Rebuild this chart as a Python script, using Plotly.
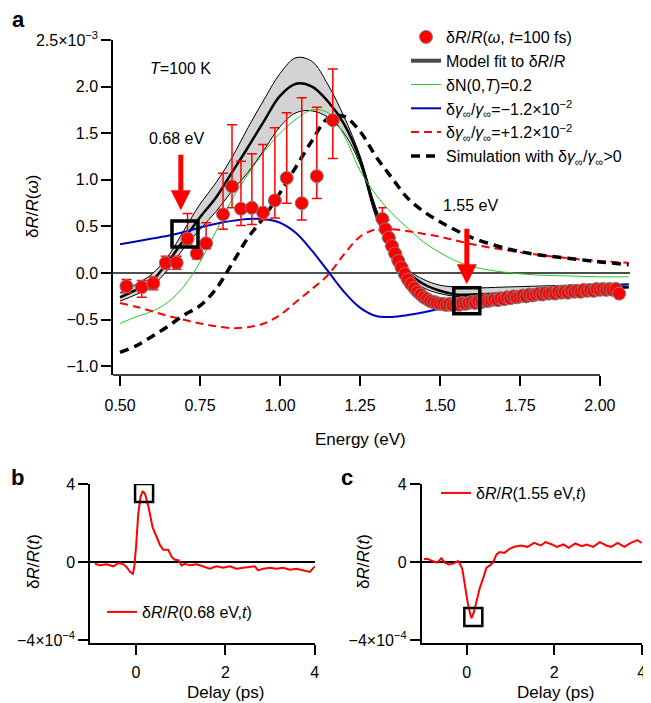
import plotly.graph_objects as go

# the page body adds an 8px offset; the figure is laid out in window pixels minus that offset
OFF = 8
W, H = 651 - OFF, 703 - OFF
FONT = "Liberation Sans"

def px(x):
    return (x - OFF) / W

def py(y):
    return 1 - (y - OFF) / H

# ---------------- Panel a data ----------------
E_grid = [0.50, 0.55, 0.60, 0.65, 0.70, 0.75, 0.80, 0.85, 0.90, 0.95, 1.00, 1.05, 1.10,
          1.15, 1.20, 1.25, 1.30, 1.35, 1.40, 1.45, 1.50, 1.55, 1.60, 1.70, 1.80, 1.90,
          2.00, 2.09]
fit_center = [-0.26, -0.18, -0.08, 0.12, 0.36, 0.60, 0.81, 1.08, 1.35, 1.63, 1.90, 2.03, 2.00,
              1.84, 1.60, 1.22, 0.65, 0.28, 0.01, -0.12, -0.19, -0.23, -0.23, -0.22, -0.20,
              -0.18, -0.16, -0.15]
fit_upper = [-0.21, -0.12, -0.01, 0.18, 0.46, 0.74, 0.97, 1.24, 1.56, 1.86, 2.14, 2.31, 2.27,
             2.02, 1.68, 1.26, 0.70, 0.32, 0.04, -0.07, -0.13, -0.15, -0.16, -0.15, -0.14,
             -0.13, -0.12, -0.12]
fit_lower = [-0.30, -0.23, -0.14, 0.04, 0.27, 0.47, 0.66, 0.88, 1.08, 1.32, 1.57, 1.72, 1.74,
             1.67, 1.50, 1.17, 0.60, 0.25, -0.03, -0.16, -0.22, -0.25, -0.25, -0.24, -0.21,
             -0.19, -0.17, -0.16]
dN_curve = [-0.54, -0.47, -0.41, -0.31, -0.14, 0.12, 0.45, 0.79, 1.06, 1.30, 1.50, 1.65, 1.75,
            1.72, 1.48, 1.10, 0.84, 0.64, 0.48, 0.33, 0.22, 0.13, 0.07, 0.01, -0.02,
            -0.03, -0.04, -0.04]
gam_minus = [0.31, 0.34, 0.37, 0.40, 0.44, 0.49, 0.53, 0.56, 0.58, 0.58, 0.54, 0.43, 0.24,
             0.02, -0.20, -0.37, -0.46, -0.47, -0.45, -0.42, -0.38, -0.33, -0.29, -0.23, -0.19,
             -0.16, -0.14, -0.12]
gam_plus = [-0.32, -0.36, -0.41, -0.46, -0.50, -0.54, -0.57, -0.59, -0.58, -0.54, -0.45, -0.31, -0.17,
            -0.02, 0.20, 0.39, 0.47, 0.47, 0.45, 0.42, 0.39, 0.35, 0.31, 0.25, 0.20,
            0.16, 0.13, 0.11]
sim_curve = [-0.85, -0.78, -0.68, -0.57, -0.45, -0.35, -0.17, 0.10, 0.38, 0.60, 0.86, 1.14, 1.42,
             1.66, 1.68, 1.52, 1.25, 1.02, 0.80, 0.66, 0.55, 0.46, 0.38, 0.27, 0.20,
             0.16, 0.12, 0.09]

# sparse measured points (low energies)
E_sparse = [0.52, 0.568, 0.604, 0.643, 0.677, 0.711, 0.74, 0.769, 0.822, 0.85, 0.878, 0.912,
            0.947, 0.984, 1.021, 1.068, 1.115, 1.165]
R_sparse = [-0.14, -0.15, -0.11, 0.11, 0.11, 0.37, 0.21, 0.32, 0.63, 0.93, 0.69, 0.70,
            0.65, 0.78, 1.02, 0.75, 1.04, 1.64]
err_up_sparse = [0.07, 0.07, 0.07, 0.07, 0.07, 0.27, 0.06, 0.22, 0.44, 0.66, 0.51, 0.58,
                 0.73, 0.78, 0.70, 1.13, 0.74, 0.55]
err_dn_sparse = [0.07, 0.11, 0.07, 0.07, 0.07, 0.06, 0.06, 0.06, 0.16, 0.23, 0.18, 0.18,
                 0.08, 0.19, 0.27, 0.18, 0.24, 0.41]

# dense measured points (high energies)
E_dense = [1.32, 1.33, 1.34, 1.35, 1.36, 1.37, 1.38, 1.39, 1.40, 1.41, 1.42, 1.43, 1.44, 1.45,
           1.46, 1.47, 1.48, 1.49, 1.50, 1.51, 1.52, 1.53, 1.54, 1.55, 1.56, 1.57, 1.58, 1.59,
           1.60, 1.61, 1.62, 1.63, 1.64, 1.65, 1.66, 1.67, 1.68, 1.69, 1.70, 1.71, 1.72, 1.73,
           1.74, 1.75, 1.76, 1.77, 1.78, 1.79, 1.80, 1.81, 1.82, 1.83, 1.84, 1.85, 1.86, 1.87,
           1.88, 1.89, 1.90, 1.91, 1.92, 1.93, 1.94, 1.95, 1.96, 1.97, 1.98, 1.99, 2.00, 2.01,
           2.02, 2.03, 2.04, 2.05, 2.06]
R_dense = [0.58, 0.47, 0.38, 0.29, 0.21, 0.13, 0.06, -0.01, -0.07, -0.12, -0.16, -0.20, -0.23, -0.26,
           -0.28, -0.30, -0.31, -0.32, -0.33, -0.33, -0.34, -0.33, -0.34, -0.33, -0.34, -0.32, -0.33, -0.32,
           -0.31, -0.32, -0.30, -0.31, -0.29, -0.30, -0.29, -0.28, -0.29, -0.27, -0.28, -0.26, -0.27, -0.25,
           -0.26, -0.25, -0.24, -0.25, -0.23, -0.24, -0.23, -0.22, -0.23, -0.21, -0.22, -0.21, -0.22, -0.20,
           -0.21, -0.20, -0.21, -0.19, -0.20, -0.19, -0.20, -0.18, -0.19, -0.18, -0.19, -0.17, -0.18, -0.17,
           -0.18, -0.17, -0.18, -0.17, -0.22]
err_dense = [0.12, 0.10, 0.09, 0.08, 0.07, 0.06, 0.06, 0.06, 0.06, 0.05, 0.05, 0.05, 0.05, 0.05,
             0.05, 0.05, 0.06, 0.05, 0.06, 0.05, 0.06, 0.05, 0.06, 0.05, 0.05, 0.05, 0.05, 0.05,
             0.05, 0.04, 0.05, 0.04, 0.05, 0.04, 0.05, 0.04, 0.04, 0.04, 0.04, 0.04, 0.04, 0.04,
             0.04, 0.04, 0.04, 0.04, 0.04, 0.04, 0.04, 0.04, 0.04, 0.04, 0.04, 0.04, 0.04, 0.04,
             0.04, 0.04, 0.04, 0.04, 0.04, 0.04, 0.04, 0.04, 0.04, 0.04, 0.04, 0.04, 0.04, 0.04,
             0.04, 0.04, 0.04, 0.04, 0.04]

a_xticks = [0.50, 0.75, 1.00, 1.25, 1.50, 1.75, 2.00]
a_xticktext = ["0.50", "0.75", "1.00", "1.25", "1.50", "1.75", "2.00"]
a_yticks = [-1.0, -0.5, 0.0, 0.5, 1.0, 1.5, 2.0, 2.5]
a_yticktext = ["\u22121.0", "\u22120.5", "0.0", "0.5", "1.0", "1.5", "2.0", "2.5\u00d710<sup>\u22123</sup>"]

box_a = [(0.703, 0.42), (1.584, -0.297)]
arrow_a = [(0.69, 0.675), (1.584, -0.12)]

# ---------------- Panel b / c data (units of 1e-4) ----------------
t_b = [-0.92, -0.80, -0.66, -0.51, -0.39, -0.28, -0.21, -0.13, -0.07, -0.04, 0.00, 0.05, 0.10,
       0.15, 0.20, 0.28, 0.37, 0.46, 0.54, 0.61, 0.72, 0.80, 0.87, 0.95, 1.02, 1.09, 1.21,
       1.36, 1.50, 1.65, 1.80, 1.95, 2.10, 2.25, 2.40, 2.55, 2.66, 2.73, 2.85, 3.00, 3.14,
       3.29, 3.44, 3.59, 3.74, 3.89, 4.00]
R_b = [-0.09, -0.17, -0.12, -0.22, -0.05, -0.12, -0.26, -0.51, -0.60, -0.26, 0.77, 2.48, 3.33,
       3.64, 3.50, 2.82, 1.79, 1.28, 0.85, 0.63, 0.63, 0.26, 0.12, 0.09, -0.17, -0.09, -0.17,
       -0.12, -0.22, -0.34, -0.22, -0.29, -0.22, -0.34, -0.29, -0.26, -0.22, -0.43, -0.34, -0.29, -0.34,
       -0.29, -0.39, -0.34, -0.43, -0.51, -0.22]
t_c = [-0.98, -0.90, -0.83, -0.75, -0.68, -0.58, -0.50, -0.41, -0.30, -0.20, -0.15, -0.10, -0.04,
       0.02, 0.08, 0.11, 0.16, 0.23, 0.30, 0.38, 0.45, 0.53, 0.60, 0.68, 0.75, 0.86, 0.98,
       1.09, 1.24, 1.39, 1.54, 1.69, 1.80, 1.95, 2.06, 2.21, 2.33, 2.48, 2.63, 2.74, 2.89,
       3.04, 3.19, 3.30, 3.45, 3.60, 3.75, 3.90, 4.00]
R_c = [0.14, 0.17, 0.10, 0.05, -0.03, 0.19, -0.03, -0.12, -0.07, 0.05, -0.12, -0.37, -1.22,
       -2.07, -2.66, -2.88, -2.58, -1.90, -1.31, -0.80, -0.29, -0.17, -0.03, 0.39, 0.51, 0.47, 0.68,
       0.78, 0.85, 0.78, 0.98, 0.85, 1.02, 0.90, 0.78, 0.90, 0.73, 0.95, 0.81, 0.90, 0.78,
       1.02, 0.85, 0.78, 0.98, 0.78, 0.98, 1.12, 0.98]
bc_xticks = [0, 2, 4]
bc_yticks = [-4, 0, 4]
bc_yticktext = ["\u22124\u00d710<sup>\u22124</sup>", "0", "4"]
box_b = (0.18, 3.54)
box_c = (0.15, -2.82)

# ---------------- figure ----------------
fig = go.Figure()

# Model fit band
fig.add_trace(go.Scatter(x=E_grid, y=fit_lower, mode="lines", line=dict(color="black", width=1, shape="spline"),
                         showlegend=False, hoverinfo="skip", xaxis="x", yaxis="y"))
fig.add_trace(go.Scatter(x=E_grid, y=fit_upper, mode="lines", line=dict(color="black", width=1, shape="spline"),
                         fill="tonexty", fillcolor="rgb(211,211,211)",
                         showlegend=False, hoverinfo="skip", xaxis="x", yaxis="y"))
fig.add_trace(go.Scatter(x=E_grid, y=fit_center, mode="lines", line=dict(color="black", width=2.5, shape="spline"),
                         showlegend=False, xaxis="x", yaxis="y"))
# legend proxy for model fit
fig.add_trace(go.Scatter(x=[None], y=[None], mode="lines", line=dict(color="#4a4a4a", width=4),
                         name="Model fit to \u03b4<i>R</i>/<i>R</i>", legendrank=2, xaxis="x", yaxis="y"))
fig.add_trace(go.Scatter(x=E_grid, y=dN_curve, mode="lines", line=dict(color="#22cc22", width=1, shape="spline"),
                         name="\u03b4N(0,<i>T</i>)=0.2", legendrank=3, xaxis="x", yaxis="y"))
fig.add_trace(go.Scatter(x=E_grid, y=gam_minus, mode="lines", line=dict(color="#0000c0", width=2, shape="spline"),
                         name="\u03b4<i>\u03b3</i><sub>\u221e</sub>/<i>\u03b3</i><sub>\u221e</sub>=\u22121.2\u00d710<sup>\u22122</sup>",
                         legendrank=4, xaxis="x", yaxis="y"))
fig.add_trace(go.Scatter(x=E_grid, y=gam_plus, mode="lines",
                         line=dict(color="#ff0000", width=2, dash="8px,5px", shape="spline"),
                         name="\u03b4<i>\u03b3</i><sub>\u221e</sub>/<i>\u03b3</i><sub>\u221e</sub>=+1.2\u00d710<sup>\u22122</sup>",
                         legendrank=5, xaxis="x", yaxis="y"))
fig.add_trace(go.Scatter(x=E_grid, y=sim_curve, mode="lines",
                         line=dict(color="black", width=3.5, dash="9px,6px", shape="spline"),
                         name="Simulation with \u03b4<i>\u03b3</i><sub>\u221e</sub>/<i>\u03b3</i><sub>\u221e</sub>&gt;0",
                         legendrank=6, xaxis="x", yaxis="y"))
# data points
fig.add_trace(go.Scatter(x=E_dense, y=R_dense, mode="markers",
                         marker=dict(color="#ff0000", size=13, line=dict(color="#808080", width=1)),
                         error_y=dict(type="data", array=err_dense, color="#ff0000", thickness=1.5, width=4),
                         showlegend=False, xaxis="x", yaxis="y"))
fig.add_trace(go.Scatter(x=E_sparse, y=R_sparse, mode="markers",
                         marker=dict(color="#ff0000", size=13, line=dict(color="#808080", width=1)),
                         error_y=dict(type="data", array=err_up_sparse, arrayminus=err_dn_sparse,
                                      color="#ff0000", thickness=1.5, width=5),
                         name="\u03b4<i>R</i>/<i>R</i>(<i>\u03c9</i>, <i>t</i>=100 fs)", legendrank=1,
                         xaxis="x", yaxis="y"))

# panel b / c
fig.add_trace(go.Scatter(x=t_b, y=R_b, mode="lines", line=dict(color="#ff0000", width=2),
                         name="\u03b4<i>R</i>/<i>R</i>(0.68 eV,<i>t</i>)", legend="legend2",
                         xaxis="x2", yaxis="y2"))
fig.add_trace(go.Scatter(x=t_c, y=R_c, mode="lines", line=dict(color="#ff0000", width=2),
                         name="\u03b4<i>R</i>/<i>R</i>(1.55 eV,<i>t</i>)", legend="legend3",
                         xaxis="x3", yaxis="y3"))

tickfont = dict(family=FONT, size=16, color="black")

axis_common = dict(showgrid=False, ticks="outside", ticklen=10, tickwidth=1.5, tickcolor="black",
                   linecolor="black", linewidth=1.5, tickfont=tickfont, automargin=False)

fig.update_layout(
    width=W, height=H, autosize=False,
    margin=dict(l=0, r=0, t=0, b=0, autoexpand=False),
    paper_bgcolor="white", plot_bgcolor="white",
    font=dict(family=FONT, size=16, color="black"),
    xaxis=dict(domain=[px(113), px(630)], range=[0.478, 2.094], tickvals=a_xticks, ticktext=a_xticktext,
               showline=False, zeroline=False, anchor="y", ticklabelstandoff=6, **axis_common),
    yaxis=dict(domain=[py(375), py(40)], range=[-1.093, 2.5], tickvals=a_yticks, ticktext=a_yticktext,
               showline=True, zeroline=True, zerolinecolor="#4d4d4d", zerolinewidth=1.5, anchor="x",
               **axis_common),
    xaxis2=dict(domain=[px(90), px(315)], range=[-1.03, 4.005], tickvals=bc_xticks, showline=True,
                zeroline=False, anchor="y2", ticklabelstandoff=4, **axis_common),
    yaxis2=dict(domain=[py(643), py(484)], range=[-4.15, 4.0], tickvals=bc_yticks, ticktext=bc_yticktext,
                showline=True, zeroline=True, zerolinecolor="black", zerolinewidth=2, anchor="x2",
                **axis_common),
    xaxis3=dict(domain=[px(421.7), px(642)], range=[-1.03, 4.005], tickvals=bc_xticks, showline=True,
                zeroline=False, anchor="y3", ticklabelstandoff=4, **axis_common),
    yaxis3=dict(domain=[py(643), py(484)], range=[-4.15, 4.0], tickvals=bc_yticks, ticktext=bc_yticktext,
                showline=True, zeroline=True, zerolinecolor="black", zerolinewidth=2, anchor="x3",
                **axis_common),
    legend=dict(x=px(406), y=py(20), xanchor="left", yanchor="top", bgcolor="rgba(0,0,0,0)",
                font=dict(family=FONT, size=16), tracegroupgap=0, traceorder="normal"),
    legend2=dict(x=px(102), y=py(612), xanchor="left", yanchor="middle", bgcolor="rgba(0,0,0,0)",
                 font=dict(family=FONT, size=16)),
    legend3=dict(x=px(436), y=py(493), xanchor="left", yanchor="middle", bgcolor="rgba(0,0,0,0)",
                 font=dict(family=FONT, size=16)),
)

shapes = []
# x axis line of panel a (stops at 2.00)
shapes.append(dict(type="line", xref="x", yref="y domain", x0=0.478, x1=2.0, y0=0, y1=0,
                   line=dict(color="black", width=1.5)))
for (bx, by) in box_a:
    shapes.append(dict(type="rect", xref="x", yref="y", xsizemode="pixel", ysizemode="pixel",
                       xanchor=bx, yanchor=by, x0=-13, x1=13, y0=-13, y1=13,
                       line=dict(color="black", width=3.5)))
shapes.append(dict(type="rect", xref="x2", yref="y2", xsizemode="pixel", ysizemode="pixel",
                   xanchor=box_b[0], yanchor=box_b[1], x0=-9, x1=9, y0=-9, y1=9,
                   line=dict(color="black", width=2.5)))
shapes.append(dict(type="rect", xref="x3", yref="y3", xsizemode="pixel", ysizemode="pixel",
                   xanchor=box_c[0], yanchor=box_c[1], x0=-9, x1=9, y0=-9, y1=9,
                   line=dict(color="black", width=2.5)))
fig.update_layout(shapes=shapes)

ann = []
def txt(x, y, s, size=16, bold=False, angle=0, xanchor="center"):
    ann.append(dict(x=px(x), y=py(y), xref="paper", yref="paper", text=("<b>%s</b>" % s) if bold else s,
                    showarrow=False, textangle=angle, xanchor=xanchor, yanchor="middle",
                    font=dict(family=FONT, size=size, color="black")))

txt(18, 19, "a", size=22, bold=True)
txt(17, 477, "b", size=22, bold=True)
txt(347, 477, "c", size=22, bold=True)
txt(148, 68, "<i>T</i>=100 K", xanchor="left")
txt(176, 139, "0.68 eV")
txt(470, 206, "1.55 eV")
txt(33, 207, "\u03b4<i>R</i>/<i>R</i>(<i>\u03c9</i>)", angle=-90, size=17)
txt(360, 439, "Energy (eV)", size=17)
txt(33, 562, "\u03b4<i>R</i>/<i>R</i>(<i>t</i>)", angle=-90, size=17)
txt(363, 562, "\u03b4<i>R</i>/<i>R</i>(<i>t</i>)", angle=-90, size=17)
txt(225, 692, "Delay (ps)", size=17)
txt(555, 692, "Delay (ps)", size=17)

for (axx, axy) in arrow_a:
    ann.append(dict(x=axx, y=axy, xref="x", yref="y", text="", showarrow=True, ax=0, ay=-57,
                    arrowcolor="#ff0000", arrowwidth=5, arrowhead=2, arrowsize=0.8, standoff=0))
fig.update_layout(annotations=ann)

fig.write_html("out.html")
